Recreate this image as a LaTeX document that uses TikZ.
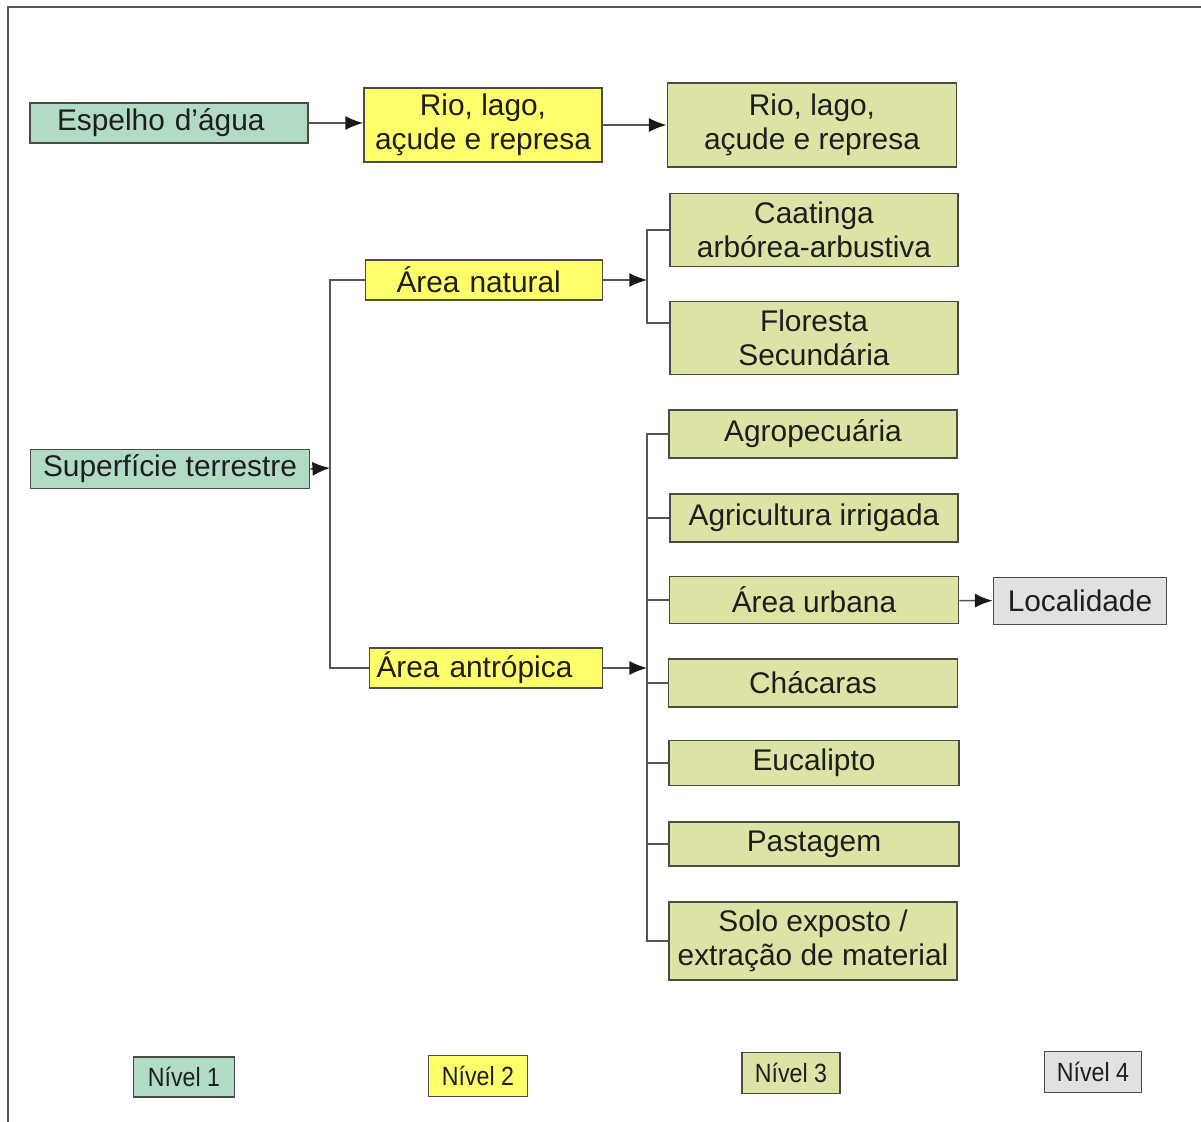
\documentclass[tikz,border=0pt]{standalone}
\usepackage{fontspec}
\setmainfont{Liberation Sans}
\newfontfamily\legfont[FakeStretch=0.88]{Liberation Sans}
\usetikzlibrary{positioning,arrows.meta}
\definecolor{nivA}{RGB}{178,219,198}
\definecolor{nivB}{RGB}{255,255,108}
\definecolor{nivC}{RGB}{220,227,164}
\definecolor{nivD}{RGB}{225,225,225}
\definecolor{boxline}{RGB}{75,75,65}
\definecolor{connline}{RGB}{85,85,85}
\definecolor{tipcol}{RGB}{25,25,25}
\definecolor{txt}{RGB}{30,30,30}
\tikzset{
    box/.style={draw=boxline,line width=1.1pt,text=txt,align=center,inner sep=0pt,
        font=\fontsize{17}{19.5}\selectfont},
    wh/.style 2 args={minimum width=#1*0.02cm,minimum height=#2*0.02cm},
    lefttext/.style 2 args={align=left,inner xsep=#2*0.02cm,text width=(#1-2*#2)*0.02cm},
    lvlA/.style={box,fill=nivA},
    lvlB/.style={box,fill=nivB},
    lvlC/.style={box,fill=nivC},
    lvlD/.style={box,fill=nivD},
    legbox/.style={line width=1pt,font=\legfont\fontsize{15}{17}\selectfont},
    conn/.style={draw=connline,line width=0.9pt},
    arr/.style={conn,-{Latex[length=10pt,width=8pt,color=tipcol]}},
    frame/.style={draw=connline,line width=0.9pt},
}

\begin{document}
\begin{tikzpicture}[x=0.02cm,y=-0.02cm]
    \useasboundingbox (0,0) rectangle (1201,1122);
    % outer frame
    \draw[frame] (8,1122) -- (8,7) -- (1201,7);
    % level 1
    \node[lvlA,wh={278}{40},lefttext={278}{27}] (esp) at (169,123) {Espelho d’água};
    \node[lvlA,wh={279}{39}] (sup) at (170,469) {Superfície terrestre};
    % level 2
    \node[lvlB,wh={238}{74}] (rioB) at (483,125) {Rio, lago,\\açude e represa};
    \node[lvlB,wh={237}{40},lefttext={237}{31}] (nat) at (484,280) {Área natural};
    \node[lvlB,wh={233}{40},lefttext={233}{7}] (ant) at (486,668) {Área antrópica};
    % level 3
    \node[lvlC,wh={289}{84}] (rioC) at (812,125) {Rio, lago,\\açude e represa};
    \node[lvlC,wh={288}{73}] (caa) at (814,230) {Caatinga\\arbórea-arbustiva};
    \node[lvlC,wh={288}{73}] (flo) at (814,338) {Floresta\\Secundária};
    \node[lvlC,wh={288}{48}] (agro) at (813,434) {Agropecuária};
    \node[lvlC,wh={288}{48}] (agri) at (814,518) {Agricultura irrigada};
    \node[lvlC,wh={289}{47}] (urb) at (814,600) {Área urbana};
    \node[lvlC,wh={289}{48}] (cha) at (813,683) {Chácaras};
    \node[lvlC,wh={290}{45}] (euc) at (814,763) {Eucalipto};
    \node[lvlC,wh={290}{44}] (pas) at (814,844) {Pastagem};
    \node[lvlC,wh={288}{78}] (solo) at (813,941) {Solo exposto /\\extração de material};
    % level 4
    \node[lvlD,wh={173}{47}] (loc) at (1080,601) {Localidade};
    % branch points
    \coordinate (t1) at (330,468);
    \coordinate (t2) at (647,280);
    \coordinate (t3) at (647,668);
    % draw the connectors
    \draw[arr] (esp) -- (esp -| rioB.west);
    \draw[arr] (rioB) -- (rioC);
    \draw[arr] (sup.east) -- (t1);
    \draw[conn] (nat.west) -| (t1);
    \draw[conn] (ant.west) -| (t1);
    \draw[arr] (nat.east) -- (t2);
    \draw[conn] (caa.west) -| (t2);
    \draw[conn] ([yshift=0.3cm]flo.west) -| (t2);
    \draw[arr] (ant.east) -- (t3);
    \foreach \n in {agro,agri,urb,cha,euc,pas,solo} \draw[conn] (\n.west) -| (t3);
    \draw[arr] (urb) -- (loc);
    % legend
    \node[lvlA,legbox,wh={101}{40}] (legA) at (184,1077) {Nível 1};
    \node[lvlB,legbox,wh={99}{41}] (legB) at (478,1076) {Nível 2};
    \node[lvlC,legbox,wh={98}{41}] (legC) at (791,1073) {Nível 3};
    \node[lvlD,legbox,wh={97}{41}] (legD) at (1093,1072) {Nível 4};
\end{tikzpicture}
\end{document}
